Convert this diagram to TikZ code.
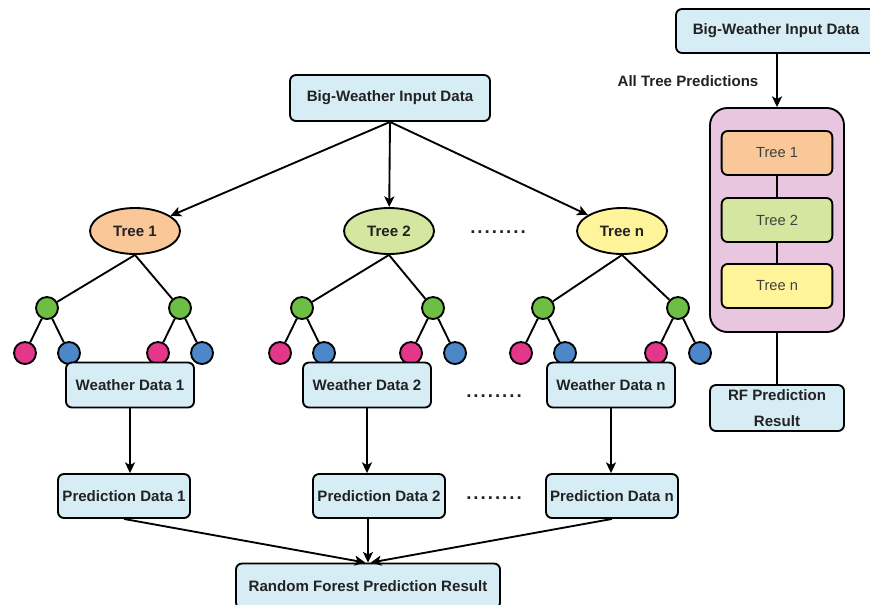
\documentclass[tikz,border=0pt]{standalone}
\usepackage{fontspec}
\setmainfont{Liberation Sans}
\usetikzlibrary{
    arrows.meta,
    positioning,
    shapes.geometric
}
\definecolor{boxblue}{RGB}{214,237,245}
\definecolor{txtgray}{RGB}{34,34,34}
\definecolor{treeorange}{RGB}{250,200,152}
\definecolor{treegreen}{RGB}{212,230,160}
\definecolor{treeyellow}{RGB}{255,244,154}
\definecolor{poolpink}{RGB}{232,198,224}
\definecolor{leafgreen}{RGB}{109,190,69}
\definecolor{leafpink}{RGB}{228,55,140}
\definecolor{leafblue}{RGB}{75,135,201}
\newcommand\lblfont{\fontsize{11.3}{14}\selectfont\bfseries}
\newcommand\dotrow{\fontsize{14}{14}\selectfont\bfseries
  .\kern1.5pt.\kern1.5pt.\kern1.5pt.\kern1.5pt.\kern1.5pt.\kern1.5pt.\kern1.5pt.}
\tikzset{
  block/.style  = {draw, line width=1.4pt, rounded corners=4.5pt, fill=boxblue,
                   align=center, font=\lblfont, text=txtgray, inner sep=2pt},
  rtree/.style  = {draw, line width=1.4pt, rounded corners=4.5pt,
                   minimum width=83pt, minimum height=33pt,
                   font=\fontsize{11}{13}\selectfont, text=black!75},
  ln/.style     = {line width=1.4pt},
  arr/.style    = {-{Stealth[length=8pt,width=7.5pt,inset=2pt]}, line width=1.4pt}
}

\begin{document}
\begin{tikzpicture}[x=0.75pt, y=-0.75pt,
    tree/.style={ellipse, draw, line width=1.4pt, minimum width=67.5pt,
                 minimum height=34.5pt, inner sep=0pt, font=\lblfont, text=txtgray},
    leaf/.style={circle, draw, line width=1.4pt, minimum size=16.5pt, inner sep=0pt},
    dots/.style={font=\lblfont, text=txtgray}
  ]
    \useasboundingbox (0,0) rectangle (870,604);
    % Forest
    \node[block, minimum width=150pt, minimum height=34.5pt](in) at (390,98) {Big-Weather Input Data};
    \node[tree, fill=treeorange](t1) at (135,231) {Tree 1};
    \node[tree, fill=treegreen] (t2) at (389,231) {Tree 2};
    \node[tree, fill=treeyellow](tn) at (622,231) {Tree n};
    \node[dots](d1) at (498,232) {\dotrow};
    \foreach \t in {1,2,n} \draw[arr](in.south) -- (t\t);

    \foreach \t/\gl/\gr in {1/47/180, 2/302/433, n/543/678}{
      \node[leaf, fill=leafgreen](ga\t) at (\gl,308) {};
      \node[leaf, fill=leafgreen](gb\t) at (\gr,308) {};
      \node[leaf, fill=leafpink] (pa\t) at (\gl-22,353) {};
      \node[leaf, fill=leafblue] (ba\t) at (\gl+22,353) {};
      \node[leaf, fill=leafpink] (pb\t) at (\gr-22,353) {};
      \node[leaf, fill=leafblue] (bb\t) at (\gr+22,353) {};
      \draw[ln](t\t.south) -- (ga\t) (t\t.south) -- (gb\t)
               (ga\t) -- (pa\t) (ga\t) -- (ba\t)
               (gb\t) -- (pb\t) (gb\t) -- (bb\t);
    }

    \node[block, minimum width=96pt, minimum height=33.75pt](wd1) at (130,385) {Weather Data 1};
    \node[block, minimum width=96pt, minimum height=33.75pt](wd2) at (367,385) {Weather Data 2};
    \node[block, minimum width=96pt, minimum height=33.75pt](wdn) at (611,385) {Weather Data n};
    \node[dots](d2) at (494,396) {\dotrow};

    \node[block, minimum width=99pt, minimum height=33pt](pd1) at (124,496) {Prediction Data 1};
    \node[block, minimum width=99pt, minimum height=33pt](pd2) at (379,496) {Prediction Data 2};
    \node[block, minimum width=99pt, minimum height=33pt](pdn) at (612,496) {Prediction Data n};
    \node[dots](d3) at (494,498) {\dotrow};

    \node[block, minimum width=198pt, minimum height=33.75pt](rf) at (368,586) {Random Forest Prediction Result};

    \foreach \t in {1,2,n} \draw[arr](wd\t.south) -- (wd\t.south |- pd\t.north);
    \draw[arr](pd1.south) -- ([xshift=-2pt]rf.north);
    \draw[arr](pd2.south -| rf.north) -- (rf.north);
    \draw[arr](pdn.south) -- ([xshift=2pt]rf.north);

    % Summary
    \node[block, minimum width=150pt, minimum height=33pt](in2) at (776,31) {Big-Weather Input Data};
    \node[dots](atp) at (688,81) {All Tree Predictions};
    \node[draw, line width=1.4pt, fill=poolpink, rounded corners=13pt,
          minimum width=100.5pt, minimum height=168pt](pool) at (777,220) {};
    \node[rtree, fill=treeorange](r1) at (777,153) {Tree 1};
    \node[rtree, fill=treegreen] (r2) at (777,220) {Tree 2};
    \node[rtree, fill=treeyellow](rn) at (777,286) {Tree n};
    \draw[ln](r1) -- (r2) (r2) -- (rn);
    \draw[arr](in2.south -| pool.north) -- (pool.north);
    \node[block, minimum width=100.5pt, minimum height=34.5pt](rfp) at (777,408) {RF Prediction\\[5pt]Result};
    \draw[ln](pool.south) -- (rfp.north);
  \end{tikzpicture}
\end{document}
